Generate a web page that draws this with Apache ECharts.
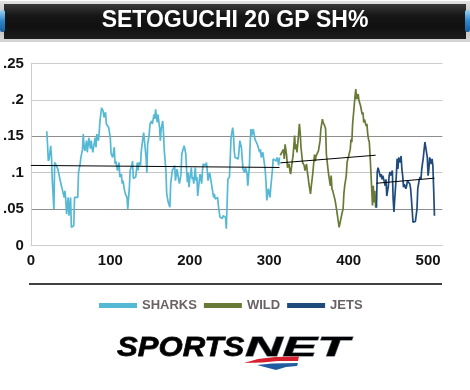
<!DOCTYPE html>
<html><head><meta charset="utf-8">
<script src="https://cdn.jsdelivr.net/npm/echarts/dist/echarts.min.js"></script>
<style>html,body{margin:0;padding:0;background:#fff}#c{width:470px;height:390px}</style>
</head><body><div id="c"></div>
<script>
const chartTitle = 'SETOGUCHI 20 GP SH%';
const seriesNames = ['SHARKS', 'WILD', 'JETS'];
const seriesColors = ['#55b9d5', '#687a36', '#1f4b7c'];
const yTickLabels = ['0', '.05', '.1', '.15', '.2', '.25'];
const xTickLabels = ['0', '100', '200', '300', '400', '500'];

const sharksGames = [20,21,22,23,25,26,27,29,30,32,34,36,37,39,40,41,42,43,44,45,47,48,50,51,52,54,55,57,59,60,62,63,65,66,67,68,70,71,72,73,75,76,77,78,80,81,82,83,85,86,87,89,91,92,94,95,97,98,100,101,103,105,106,107,109,111,112,114,115,116,118,119,121,122,124,125,127,128,129,132,134,135,136,138,139,141,142,143,145,146,147,149,150,152,153,155,156,157,159,160,162,163,164,166,167,168,170,171,173,175,176,178,180,181,182,184,185,186,187,189,190,192,193,195,196,197,198,199,200,202,203,204,205,207,208,209,210,212,213,215,216,217,218,220,221,222,223,225,226,227,228,230,231,232,233,235,236,237,238,240,241,242,243,245,246,247,248,250,251,252,254,255,256,257,259,261,262,263,264,265,267,269,270,272,273,275,276,277,278,280,281,282,284,285,287,288,289,290,292,294,295,296,297,299,300,301,302,304,305,306,307,309,310,311,312,313];
const sharksValues = [.157,.139,.116,.119,.137,.121,.089,.050,.114,.110,.105,.103,.089,.089,.075,.073,.066,.075,.062,.043,.066,.041,.066,.025,.024,.027,.066,.068,.066,.100,.112,.121,.132,.153,.135,.130,.144,.128,.137,.148,.133,.144,.135,.128,.142,.148,.135,.153,.144,.155,.171,.189,.185,.176,.183,.167,.169,.162,.148,.126,.121,.135,.112,.116,.103,.114,.094,.098,.085,.089,.075,.071,.066,.050,.080,.103,.110,.116,.092,.094,.114,.103,.114,.110,.130,.132,.155,.144,.121,.100,.139,.153,.167,.171,.167,.180,.174,.187,.169,.180,.162,.144,.160,.171,.153,.130,.103,.071,.059,.0525,.085,.103,.107,.110,.089,.105,.107,.091,.085,.098,.126,.128,.137,.126,.105,.087,.100,.080,.091,.107,.091,.094,.085,.107,.089,.094,.068,.089,.098,.085,.103,.112,.114,.110,.114,.103,.089,.100,.094,.087,.080,.066,.071,.064,.062,.066,.055,.0525,.039,.041,.037,.041,.043,.039,.023,.057,.091,.094,.121,.148,.162,.153,.130,.121,.123,.119,.130,.144,.146,.135,.105,.100,.107,.100,.082,.107,.139,.160,.151,.160,.153,.146,.144,.139,.137,.128,.132,.121,.128,.112,.103,.087,.062,.078,.080,.066,.080,.103,.119,.121,.119,.116,.121,.116,.110,.121];

const wildGames = [314,316,318,319,320,322,323,325,326,327,329,330,332,333,334,335,337,338,339,340,342,344,345,347,348,349,350,352,353,354,355,357,358,359,360,362,363,364,365,367,368,369,370,371,372,374,375,377,378,379,380,382,383,384,385,387,388,389,390,392,393,394,395,397,398,399,400,402,403,404,405,407,408,409,410,412,413,414,415,417,418,419,420,422,423,424,425,426,427,428,429,430,431,432,433,434];
const wildValues = [.124,.123,.132,.119,.139,.123,.107,.112,.103,.098,.116,.123,.151,.132,.139,.128,.153,.167,.155,.135,.114,.110,.103,.112,.101,.094,.0845,.071,.082,.091,.101,.125,.116,.123,.125,.130,.137,.144,.160,.1735,.169,.171,.164,.160,.125,.105,.096,.082,.096,.078,.075,.073,.062,.064,.048,.050,.025,.023,.025,.046,.050,.071,.082,.096,.114,.119,.123,.132,.146,.142,.167,.192,.205,.215,.201,.208,.199,.201,.192,.180,.183,.169,.173,.164,.167,.153,.146,.142,.123,.101,.078,.055,.082,.059,.075,.052];

const jetsGames = [435,436,437,438,440,441,442,443,445,446,447,448,450,451,452,453,455,456,457,458,460,461,462,463,465,466,467,468,469,470,472,473,474,475,477,478,479,480,481,482,484,485,486,487,489,490,491,492,494,495,496,497,499,500,501,502,504,505,506,507,508];
const jetsValues = [.052,.101,.107,.103,.094,.098,.091,.096,.087,.082,.091,.068,.082,.096,.101,.096,.103,.064,.046,.064,.096,.119,.105,.121,.114,.123,.105,.096,.080,.0845,.078,.082,.089,.087,.0845,.078,.064,.048,.032,.034,.033,.032,.050,.078,.091,.094,.091,.105,.121,.132,.142,.135,.121,.096,.105,.121,.112,.119,.110,.078,.041];

// linear trend lines (start / end)
const sharksTrendGames = [0, 313];
const sharksTrendValues = [0.110, 0.1072];
const wildTrendGames = [314, 434];
const wildTrendValues = [0.1135, 0.124];
const jetsTrendGames = [435, 508];
const jetsTrendValues = [0.0855, 0.0925];

function pairs(xs, ys) { return xs.map((x, i) => [x, ys[i]]); }

const chart = echarts.init(document.getElementById('c'), null, {renderer: 'canvas'});
const axisFont = {fontFamily: '"Liberation Sans Narrow", "Liberation Sans", sans-serif', fontWeight: 'bold', fontSize: 15, color: '#141414'};

function lineSeries(i, games, values) {
  return {name: seriesNames[i], type: 'line', data: pairs(games, values), color: seriesColors[i],
    symbol: 'none', showSymbol: false, lineStyle: {width: 1.7, color: seriesColors[i]}, z: 2, silent: true};
}
function trendSeries(games, values) {
  return {name: 'trend', type: 'line', data: pairs(games, values), symbol: 'none', showSymbol: false,
    lineStyle: {width: 1, color: '#000'}, z: 3, silent: true};
}

const vGrad = (stops) => ({type: 'linear', x: 0, y: 0, x2: 0, y2: 1, colorStops: stops.map((c, i) => ({offset: i / (stops.length - 1), color: c}))});

chart.setOption({
  animation: false,
  backgroundColor: '#fff',
  grid: {left: 28, top: 63.5, width: 414.4, height: 182, containLabel: false},
  xAxis: {type: 'value', min: 0, max: 518, interval: 100,
    axisLine: {show: true, lineStyle: {color: '#cdcdcd', width: 1}},
    axisTick: {show: false}, splitLine: {show: false},
    axisLabel: Object.assign({margin: 8, showMaxLabel: false,
      formatter: v => (v % 100 === 0 ? xTickLabels[v / 100] : '')}, axisFont)},
  yAxis: {type: 'value', min: 0, max: 0.25, interval: 0.05,
    axisLine: {show: true, lineStyle: {color: '#cdcdcd', width: 1}},
    axisTick: {show: false},
    splitLine: {show: true, lineStyle: {width: 1, color: ['#cdcdcd', '#8e8e8e', '#c6c6c6', '#8e8e8e', '#cdcdcd', '#cdcdcd']}},
    axisLabel: Object.assign({margin: 7, formatter: v => yTickLabels[Math.round(v / 0.05)]}, axisFont)},
  legend: {
    left: 99, top: 299, padding: 0, itemGap: 7, itemWidth: 38, itemHeight: 5,
    selectedMode: false,
    textStyle: {fontFamily: '"Liberation Sans Narrow", sans-serif', fontWeight: 'bold', fontSize: 13, color: '#6a6264', padding: [1, 0, 0, 0]},
    data: seriesNames.map((n, i) => ({name: n, icon: 'rect', itemStyle: {color: seriesColors[i]}}))
  },
  series: [
    lineSeries(0, sharksGames, sharksValues),
    lineSeries(1, wildGames, wildValues),
    lineSeries(2, jetsGames, jetsValues),
    trendSeries(sharksTrendGames, sharksTrendValues),
    trendSeries(wildTrendGames, wildTrendValues),
    trendSeries(jetsTrendGames, jetsTrendValues)
  ],
  graphic: [
    {type: 'rect', shape: {x: 0, y: 1, width: 470, height: 41}, style: {fill: vGrad(['#e2e2e2', '#b9b9b9', '#d6d6d6'])}, silent: true},
    {type: 'rect', shape: {x: 4, y: 4, width: 462, height: 35}, style: {fill: vGrad(['#3a3a3a', '#161616', '#111111', '#1c1c1c'])}, silent: true},
    {type: 'rect', shape: {x: 0, y: 10, width: 5, height: 22, r: 2}, style: {fill: vGrad(['#9ad3f5', '#2f86cc', '#185d9e'])}, silent: true},
    {type: 'rect', shape: {x: 465, y: 10, width: 5, height: 22, r: 2}, style: {fill: vGrad(['#9ad3f5', '#2f86cc', '#185d9e'])}, silent: true},
    {type: 'text', x: 235, y: 21, silent: true,
      style: {text: chartTitle, fill: '#ffffff', font: 'bold 23px "Liberation Sans", Arial, sans-serif', align: 'center', verticalAlign: 'middle'}},
    {type: 'line', shape: {x1: 29, y1: 284, x2: 442, y2: 284}, style: {stroke: '#000', lineWidth: 1.5}, silent: true},
    {type: 'text', x: 117, y: 348, scaleX: 1.11, silent: true,
      style: {text: 'SPORTS', font: 'italic bold 28px "Liberation Sans", Arial, sans-serif', fill: vGrad(['#3a3e44', '#15171b', '#202328']), stroke: '#1b1d21', lineWidth: 0.8, align: 'left', verticalAlign: 'middle'}},
    {type: 'text', x: 245, y: 348, scaleX: 1.86, silent: true,
      style: {text: 'NET', font: 'italic bold 28px "Liberation Sans", Arial, sans-serif', fill: vGrad(['#7d8791', '#4b5560', '#59636e']), stroke: '#4e5863', lineWidth: 0.8, align: 'left', verticalAlign: 'middle'}},
    {type: 'polygon', silent: true, shape: {points: [[244, 363], [258, 359], [275, 357], [299, 356.5], [298, 361], [278, 361], [262, 362.5]]}, style: {fill: '#d7202d'}},
    {type: 'polygon', silent: true, shape: {points: [[257, 365], [272, 363.5], [298, 363], [297, 366], [286, 367], [276, 370]]}, style: {fill: '#1f5da0'}}
  ]
});
</script>
</body></html>
